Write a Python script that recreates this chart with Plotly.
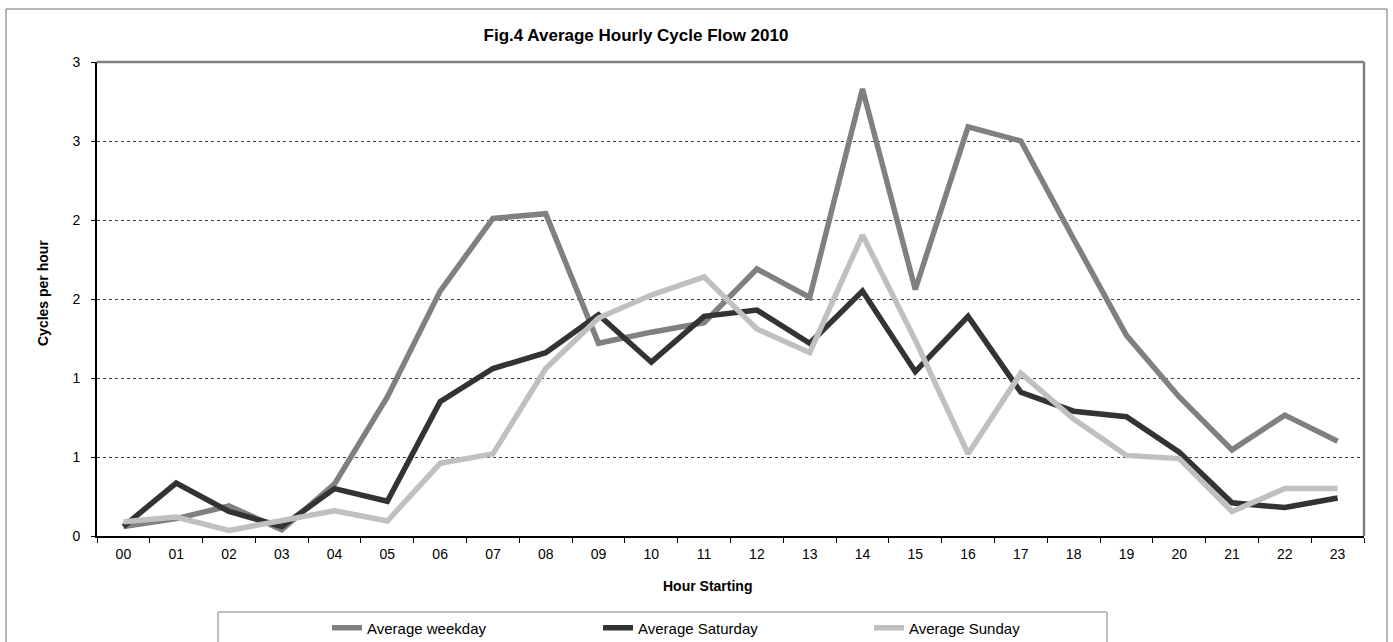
import plotly.graph_objects as go

hours = ["00", "01", "02", "03", "04", "05", "06", "07", "08", "09", "10", "11",
         "12", "13", "14", "15", "16", "17", "18", "19", "20", "21", "22", "23"]

weekday = [0.06, 0.11, 0.19, 0.04, 0.33, 0.88, 1.55, 2.01, 2.04, 1.22, 1.29, 1.35,
           1.69, 1.51, 2.83, 1.56, 2.59, 2.50, 1.88, 1.27, 0.88, 0.545, 0.765, 0.60]
saturday = [0.06, 0.335, 0.155, 0.06, 0.30, 0.22, 0.85, 1.06, 1.16, 1.40, 1.10, 1.39,
            1.43, 1.22, 1.55, 1.04, 1.39, 0.91, 0.79, 0.755, 0.53, 0.21, 0.18, 0.24]
sunday = [0.09, 0.12, 0.035, 0.10, 0.16, 0.095, 0.46, 0.52, 1.06, 1.38, 1.525, 1.64,
          1.31, 1.16, 1.905, 1.24, 0.52, 1.03, 0.74, 0.51, 0.49, 0.155, 0.30, 0.30]

series_names = ["Average weekday", "Average Saturday", "Average Sunday"]
series_colors = ["#808080", "#333333", "#c0c0c0"]

y_tickvals = [0, 0.5, 1.0, 1.5, 2.0, 2.5, 3.0]
y_ticktext = ["0", "1", "1", "2", "2", "3", "3"]

FONT = "Liberation Sans, Arial, sans-serif"

fig = go.Figure()
for name, vals, col in zip(series_names, [weekday, saturday, sunday], series_colors):
    fig.add_trace(go.Scatter(x=hours, y=vals, mode="lines", name=name,
                             line=dict(color=col, width=5.5)))

W, H = 1393, 642
L, R, T, B = 97, 29, 62, 106
pw, ph = W - L - R, H - T - B


def px_x(p):
    return (p - L) / pw


def px_y(p):
    return (H - B - p) / ph


shapes = [
    # outer chart border
    dict(type="rect", xref="paper", yref="paper",
         x0=px_x(6), x1=px_x(1387), y0=px_y(660), y1=px_y(9),
         line=dict(color="#6e6e6e", width=1), layer="below"),
    # plot area top & right border (gray)
    dict(type="line", xref="paper", yref="paper", x0=0, x1=1, y0=1, y1=1,
         line=dict(color="#808080", width=2.5)),
    dict(type="line", xref="paper", yref="paper", x0=1, x1=1, y0=0, y1=1,
         line=dict(color="#808080", width=2.5)),
    # legend box
    dict(type="rect", xref="paper", yref="paper",
         x0=px_x(218), x1=px_x(1107), y0=px_y(660), y1=px_y(612),
         line=dict(color="#808080", width=1)),
]

fig.update_layout(
    width=W, height=H,
    margin=dict(l=L, r=R, t=T, b=B, pad=0),
    paper_bgcolor="white", plot_bgcolor="white",
    font=dict(family=FONT, color="black", size=14),
    title=dict(text="<b>Fig.4 Average Hourly Cycle Flow 2010</b>",
               font=dict(family=FONT, size=17, color="black"),
               xref="container", x=636 / W, xanchor="center",
               yref="container", y=1 - 35 / H, yanchor="middle"),
    showlegend=True,
    legend=dict(orientation="h", xref="container", yref="container",
                x=327 / W, xanchor="left", y=(H - 628) / H, yanchor="middle",
                entrywidth=226, entrywidthmode="pixels",
                font=dict(family=FONT, size=15, color="black"),
                bgcolor="rgba(0,0,0,0)", borderwidth=0, traceorder="normal"),
    shapes=shapes,
    annotations=[
        dict(text="<b>Hour Starting</b>", xref="paper", yref="paper",
             x=px_x(707), y=px_y(586), showarrow=False,
             font=dict(family=FONT, size=14, color="black"),
             xanchor="center", yanchor="middle"),
        dict(text="<b>Cycles per hour</b>", xref="paper", yref="paper",
             x=px_x(43), y=px_y(293), showarrow=False, textangle=-90,
             font=dict(family=FONT, size=14, color="black"),
             xanchor="center", yanchor="middle"),
    ],
)

fig.update_xaxes(type="category", range=[-0.5, len(hours) - 0.5],
                 showline=True, linecolor="black", linewidth=2,
                 ticks="outside", tickson="boundaries", ticklen=5, tickwidth=1,
                 tickcolor="black", showgrid=False, zeroline=False,
                 tickfont=dict(family=FONT, size=14, color="black"),
                 ticklabelstandoff=4)

fig.update_yaxes(range=[0, 3], tickvals=y_tickvals, ticktext=y_ticktext,
                 showline=True, linecolor="black", linewidth=2,
                 ticks="outside", ticklen=4, tickwidth=1, tickcolor="black",
                 showgrid=True, gridcolor="#404040", gridwidth=1, griddash="dot",
                 zeroline=False,
                 tickfont=dict(family=FONT, size=14, color="black"),
                 ticklabelstandoff=8)

fig.write_html("out.html",
               config={"displayModeBar": False},
               post_script="document.body.style.margin='0';"
                           "document.body.style.overflow='hidden';")
